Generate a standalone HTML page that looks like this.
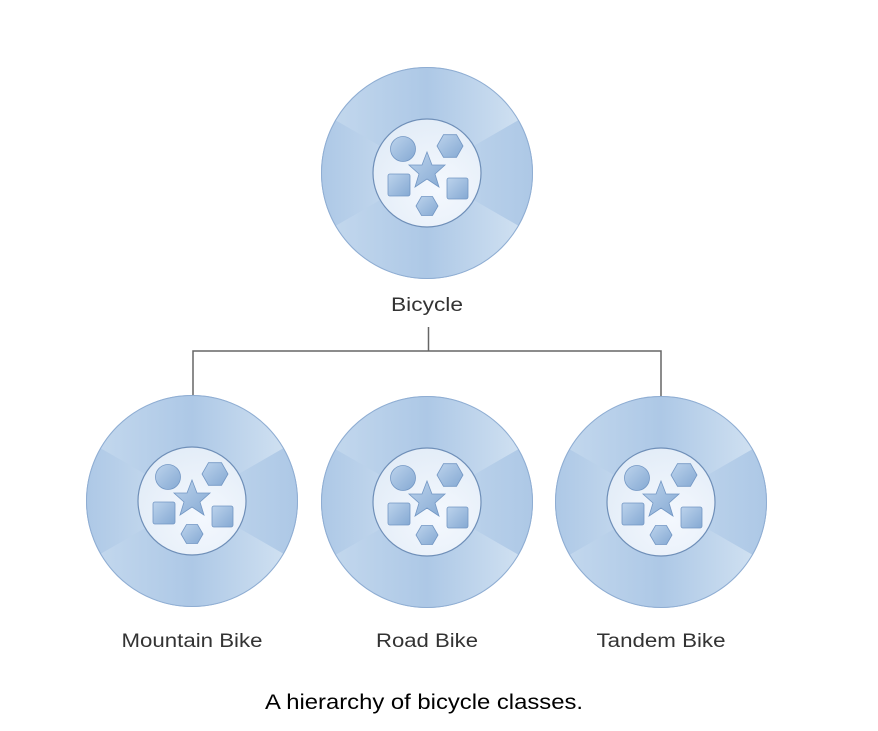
<!DOCTYPE html>
<html><head><style>
html,body{margin:0;padding:0;background:#fff;}
body{width:878px;height:731px;overflow:hidden;}
svg{display:block}
</style></head><body>
<svg width="878" height="731" viewBox="0 0 878 731" xmlns="http://www.w3.org/2000/svg">
<defs>
<linearGradient id="ga" x1="0" y1="0" x2="1" y2="0"><stop offset="0" stop-color="#adc8e6"/><stop offset="1" stop-color="#cfe0f1"/></linearGradient>
<linearGradient id="gb" x1="1" y1="0" x2="0" y2="0"><stop offset="0" stop-color="#adc8e6"/><stop offset="1" stop-color="#c2d7ed"/></linearGradient>
<radialGradient id="gi" cx="0.6" cy="0.65" r="0.7"><stop offset="0" stop-color="#f4f8fe"/><stop offset="1" stop-color="#e2ecf7"/></radialGradient>
<linearGradient id="gs" x1="0" y1="0" x2="1" y2="1"><stop offset="0" stop-color="#bcd3ec"/><stop offset="1" stop-color="#85a9d3"/></linearGradient>
<g id="node">
  <circle r="106" fill="#b8cfe9"/>
  <path d="M0 0 L0 -106 A106 106 0 0 1 91.8 -53 Z" fill="url(#ga)"/>
  <path d="M0 0 L91.8 -53 A106 106 0 0 1 91.8 53 Z" fill="url(#gb)"/>
  <path d="M0 0 L91.8 53 A106 106 0 0 1 0 106 Z" fill="url(#ga)"/>
  <path d="M0 0 L0 106 A106 106 0 0 1 -91.8 53 Z" fill="url(#gb)"/>
  <path d="M0 0 L-91.8 53 A106 106 0 0 1 -91.8 -53 Z" fill="url(#ga)"/>
  <path d="M0 0 L-91.8 -53 A106 106 0 0 1 0 -106 Z" fill="url(#gb)"/>
  <circle r="105.5" fill="none" stroke="#8fadd2" stroke-width="1"/>
  <circle r="54" fill="url(#gi)" stroke="#6f8fb8" stroke-width="1.2"/>
  <g fill="url(#gs)" stroke="#7397c4" stroke-width="0.8">
    <circle cx="-24" cy="-24" r="12.5"/>
    <polygon points="36,-27 29.5,-15.7 16.5,-15.7 10,-27 16.5,-38.3 29.5,-38.3"/>
    <polygon points="0,-21 5,-8 18,-8 8,1 12,14 0,6 -12,14 -8,1 -18,-8 -5,-8"/>
    <rect x="-39" y="1" width="22" height="22" rx="2"/>
    <rect x="20" y="5" width="21" height="21" rx="2"/>
    <polygon points="11,33 5.5,42.5 -5.5,42.5 -11,33 -5.5,23.5 5.5,23.5"/>
  </g>
</g>
</defs>
<use href="#node" x="427" y="173"/>
<use href="#node" x="192" y="501"/>
<use href="#node" x="427" y="502"/>
<use href="#node" x="661" y="502"/>
<g stroke="#666" stroke-width="1.5" fill="none">
  <line x1="428.5" y1="327" x2="428.5" y2="351"/>
  <polyline points="193,395 193,351 661,351 661,396"/>
</g>
<g font-family="Liberation Sans, sans-serif" font-size="19" fill="#333" text-anchor="middle" lengthAdjust="spacingAndGlyphs">
  <text x="427" y="311" textLength="72" lengthAdjust="spacingAndGlyphs">Bicycle</text>
  <text x="192" y="647" textLength="141" lengthAdjust="spacingAndGlyphs">Mountain Bike</text>
  <text x="427" y="647" textLength="102" lengthAdjust="spacingAndGlyphs">Road Bike</text>
  <text x="661" y="647" textLength="129" lengthAdjust="spacingAndGlyphs">Tandem Bike</text>
</g>
<text x="424" y="709" font-family="Liberation Sans, sans-serif" font-size="21" fill="#000" text-anchor="middle" textLength="318" lengthAdjust="spacingAndGlyphs">A hierarchy of bicycle classes.</text>
</svg>
</body></html>
